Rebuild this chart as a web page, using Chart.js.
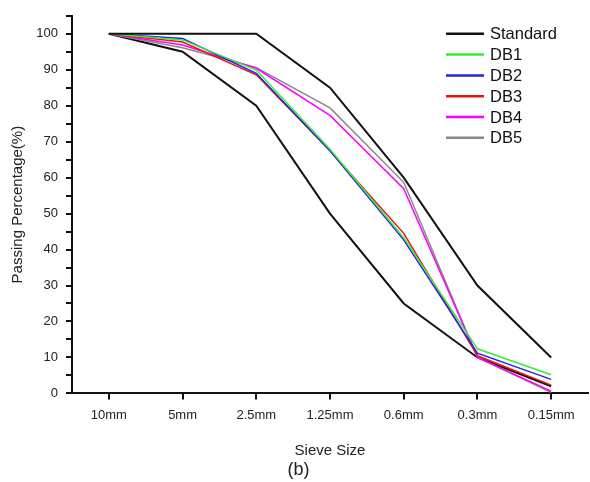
<!DOCTYPE html>
<html>
<head>
<meta charset="utf-8">
<script src="https://cdn.jsdelivr.net/npm/chart.js@4"></script>
<style>
  html, body { margin: 0; padding: 0; background: #fff; }
  #wrap { width: 590px; height: 482px; }
</style>
</head>
<body>
<div id="wrap"><canvas id="gradChart" width="590" height="482"></canvas></div>
<script>
// sieve sizes and passing percentages
const sieveSizes = ['10mm', '5mm', '2.5mm', '1.25mm', '0.6mm', '0.3mm', '0.15mm'];
const standardUpper = [100, 100, 100, 85, 60, 30, 10];
const standardLower = [100, 95, 80, 50, 25, 10, 2];
const db1 = [100, 98.3, 89.9, 67.9, 43.3, 12.4, 5.2];
const db2 = [100, 98.7, 89.0, 67.5, 42.7, 11.2, 3.9];
const db3 = [100, 97.7, 88.6, 67.5, 44.5, 10.5, 2.3];
const db4 = [100, 96.9, 90.4, 77.3, 56.9, 10.0, 0.6];
const db5 = [100, 96.1, 90.6, 79.4, 58.7, 10.0, 0.3];
const yTicks = [0, 10, 20, 30, 40, 50, 60, 70, 80, 90, 100];

const FONT = '"Liberation Sans", Arial, sans-serif';

function line(label, data, color, width) {
  return { label, data, borderColor: color, backgroundColor: color, borderWidth: width,
           pointRadius: 0, tension: 0, fill: false };
}

// legend drawn inside the plot, top right
const insideLegend = {
  id: 'insideLegend',
  afterDatasetsDraw(chart) {
    const { ctx, chartArea } = chart;
    const x0 = chartArea.right - 142;
    let y = chartArea.top + 18;
    ctx.save();
    ctx.font = '16.5px ' + FONT;
    ctx.textBaseline = 'middle';
    chart.data.datasets.forEach(ds => {
      if (ds.hideInLegend) return;
      ctx.strokeStyle = ds.borderColor;
      ctx.lineWidth = 2.5;
      ctx.beginPath();
      ctx.moveTo(x0, y);
      ctx.lineTo(x0 + 38, y);
      ctx.stroke();
      ctx.fillStyle = '#111';
      ctx.fillText(ds.label, x0 + 44, y + 1);
      y += 20.8;
    });
    ctx.restore();
  }
};

const lower = line('Standard', standardLower, '#111111', 2);
lower.hideInLegend = true;

new Chart(document.getElementById('gradChart'), {
  type: 'line',
  data: {
    labels: sieveSizes,
    datasets: [
      line('Standard', standardUpper, '#111111', 2),
      line('DB1', db1, '#33ee33', 1.5),
      line('DB2', db2, '#2222ee', 1.5),
      line('DB3', db3, '#ee1111', 1.5),
      line('DB4', db4, '#ff00ff', 1.5),
      line('DB5', db5, '#888888', 1.5),
      lower
    ]
  },
  options: {
    responsive: false,
    animation: false,
    layout: { padding: { left: 9, right: 2, top: 12, bottom: 1 } },
    plugins: {
      legend: { display: false },
      tooltip: { enabled: false },
      title: {
        display: true, position: 'bottom', text: '(b)', color: '#222',
        font: { family: FONT, size: 18, weight: 'normal' }, padding: { top: 0, bottom: 0 }
      }
    },
    scales: {
      x: {
        offset: true,
        border: { color: '#111', width: 2 },
        grid: { display: true, drawOnChartArea: false, offset: false, tickLength: 6, color: '#111', lineWidth: 2 },
        ticks: { color: '#222', font: { family: FONT, size: 13 }, padding: 8, maxRotation: 0 },
        title: { display: true, text: 'Sieve Size', color: '#222', font: { family: FONT, size: 15 }, padding: { top: 6, bottom: 0 } },
        afterFit(scale) { scale.height = 66; }
      },
      y: {
        min: 0, max: 105,
        border: { color: '#111', width: 2 },
        grid: { display: true, drawOnChartArea: false, tickLength: 6, color: '#111', lineWidth: 2 },
        ticks: {
          stepSize: 5, autoSkip: false, color: '#222', font: { family: FONT, size: 13 }, padding: 8,
          callback: v => yTicks.includes(v) ? String(v) : ''
        },
        title: { display: true, text: 'Passing Percentage(%)', color: '#222', font: { family: FONT, size: 15 }, padding: { top: 0, bottom: 4 } },
        afterFit(scale) { scale.width = 63; }
      }
    }
  },
  plugins: [insideLegend]
});
</script>
</body>
</html>
